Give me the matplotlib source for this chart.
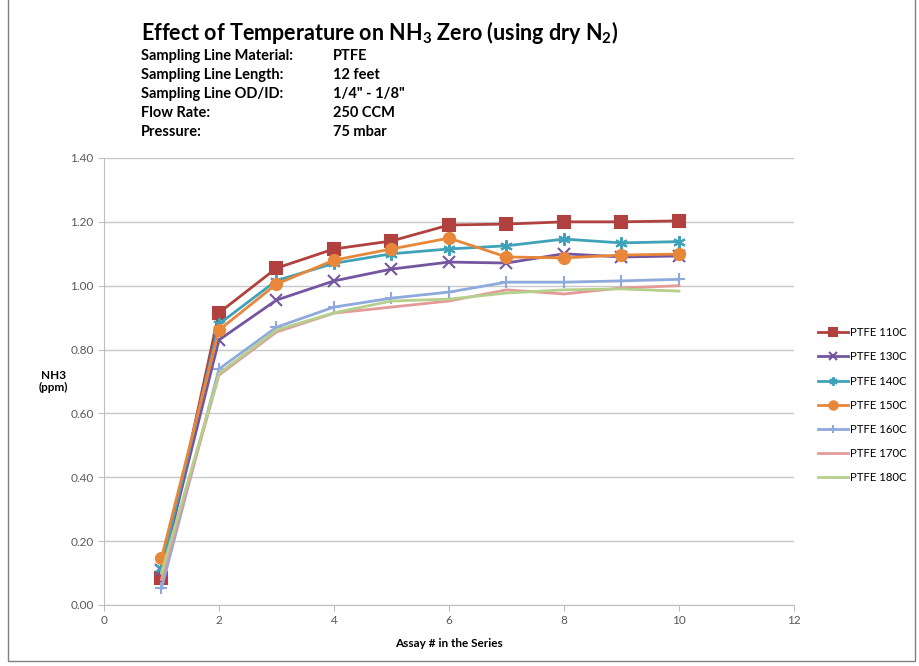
import matplotlib.pyplot as plt
from matplotlib.patches import Rectangle

plt.rcParams['font.family'] = ['Lato', 'DejaVu Sans']
plt.rcParams['mathtext.fontset'] = 'custom'
plt.rcParams['mathtext.rm'] = 'Lato:bold'
plt.rcParams['mathtext.it'] = 'Lato:bold'
plt.rcParams['mathtext.bf'] = 'Lato:bold'

assay = [1, 2, 3, 4, 5, 6, 7, 8, 9, 10]

ptfe_110 = [0.085, 0.915, 1.055, 1.115, 1.14, 1.19, 1.193, 1.20, 1.20, 1.203]
ptfe_130 = [0.11, 0.83, 0.955, 1.015, 1.052, 1.074, 1.071, 1.10, 1.09, 1.093]
ptfe_140 = [0.115, 0.88, 1.016, 1.07, 1.10, 1.115, 1.125, 1.146, 1.134, 1.138]
ptfe_150 = [0.147, 0.861, 1.005, 1.08, 1.115, 1.149, 1.09, 1.087, 1.096, 1.099]
ptfe_160 = [0.052, 0.739, 0.87, 0.933, 0.961, 0.98, 1.011, 1.011, 1.015, 1.02]
ptfe_170 = [0.08, 0.72, 0.855, 0.914, 0.933, 0.952, 0.987, 0.974, 0.993, 1.0]
ptfe_180 = [0.10, 0.725, 0.861, 0.915, 0.952, 0.958, 0.977, 0.987, 0.99, 0.983]

labels = ["PTFE 110C", "PTFE 130C", "PTFE 140C", "PTFE 150C",
          "PTFE 160C", "PTFE 170C", "PTFE 180C"]

info_keys = ["Sampling Line Material:", "Sampling Line Length:",
             "Sampling Line OD/ID:", "Flow Rate:", "Pressure:"]
info_vals = ["PTFE", "12 feet", '1/4" - 1/8"', "250 CCM", "75 mbar"]

series = [ptfe_110, ptfe_130, ptfe_140, ptfe_150, ptfe_160, ptfe_170, ptfe_180]
colors = ["#B0413E", "#7456A0", "#3FA2B8", "#E8873A", "#8EA9DB", "#E39A98", "#B5CF8C"]
markers = ["s", "x", (6, 2, 0), "o", "+", None, None]
msizes = [8, 8, 9, 8, 9, 0, 0]

fig = plt.figure(figsize=(9.2, 6.66), dpi=100)
ax = fig.add_axes([0.113, 0.0916, 0.75, 0.6712])

for y, lab, c, m, ms in zip(series, labels, colors, markers, msizes):
    ax.plot(assay, y, color=c, lw=2.0, marker=m, markersize=ms,
            markeredgewidth=1.5, label=lab)

ax.set_xlim(0, 12)
ax.set_ylim(0, 1.4)
ax.set_xticks(range(0, 13, 2))
ax.set_yticks([i * 0.2 for i in range(8)])
ax.set_yticklabels(["%.2f" % (i * 0.2) for i in range(8)])
ax.tick_params(labelsize=8.5, colors="#595959", length=4, color="#BFBFBF")
ax.grid(axis="y", color="#C8C8C8", lw=1)
ax.set_axisbelow(True)
for s in ["top", "right"]:
    ax.spines[s].set_visible(False)
for s in ["left", "bottom"]:
    ax.spines[s].set_color("#BFBFBF")

ax.set_xlabel("Assay # in the Series", fontsize=8.5, fontweight="bold", labelpad=8)
ax.set_ylabel("NH3\n(ppm)", fontsize=8.5, fontweight="bold", rotation=0,
              labelpad=12, va="center")

leg = ax.legend(loc="center left", bbox_to_anchor=(1.02, 0.447), frameon=False,
                fontsize=8.2, handlelength=2.6, labelspacing=1.15, handletextpad=0.25)
for h in leg.legend_handles:
    h.set_markersize(6)

fig.text(141 / 920, 1 - 32 / 666, "Effect of Temperature on NH$_3$ Zero (using dry N$_2$)",
         fontsize=15.5, fontweight="bold", va="center")
for i, (k, v) in enumerate(zip(info_keys, info_vals)):
    yy = 1 - (56 + i * 19) / 666
    fig.text(141 / 920, yy, k, fontsize=10.5, fontweight="bold", va="center")
    fig.text(333 / 920, yy, v, fontsize=10.5, fontweight="bold", va="center")

fig.patches.append(Rectangle((8 / 920, 5 / 666), 907 / 920, 700 / 666,
                             transform=fig.transFigure, fill=False,
                             edgecolor="#808080", lw=1))

fig.savefig("out.png", dpi=100)
